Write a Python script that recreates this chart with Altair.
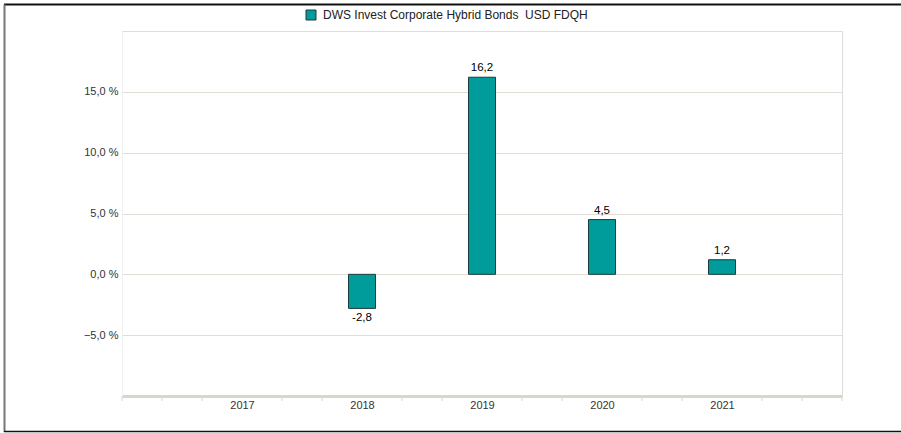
import altair as alt
import pandas as pd

years = [2018, 2019, 2020, 2021]
values = [-2.8, 16.2, 4.5, 1.2]
series_name = "DWS Invest Corporate Hybrid Bonds\u00a0 USD FDQH"
year_labels = [2017, 2018, 2019, 2020, 2021]
y_ticks = [-10, -5, 0, 5, 10, 15, 20]
minor_ticks = [2016, 2016.333, 2016.667, 2017.333, 2017.667, 2018.333, 2018.667,
               2019.333, 2019.667, 2020.333, 2020.667, 2021.333, 2021.667, 2022]

FONT = "Liberation Sans"
W, H = 720, 365
TEAL = "#009c9c"
EDGE = "#1d3b3b"
AXIS_C = "#d9d5cc"
GRID_C = "#e0ddd6"

df = pd.DataFrame({"year": years, "value": values, "series": series_name})
df["label"] = [f"{v:.1f}".replace(".", ",") for v in values]
ticks_df = pd.DataFrame({"t": minor_ticks})

xscale = alt.Scale(domain=[2016, 2022], nice=False, zero=False, padding=0)
yscale = alt.Scale(domain=[-10, 20], nice=False)

bars = alt.Chart(df).mark_bar(size=27, stroke=EDGE, strokeWidth=1).encode(
    x=alt.X("year:Q", scale=xscale, title=None,
            axis=alt.Axis(values=year_labels, format="d", ticks=False, grid=False,
                          domainColor=AXIS_C, domainWidth=3, labelFont=FONT,
                          labelFontSize=11, labelColor="#333333", labelPadding=3)),
    y=alt.Y("value:Q", scale=yscale, title=None,
            axis=alt.Axis(values=y_ticks, ticks=False, grid=True, gridColor=GRID_C,
                          domainColor="#f0f0f0", labelFont=FONT, labelFontSize=11,
                          labelColor="#333333", labelPadding=4,
                          labelExpr="(datum.value <= -10 || datum.value >= 20) ? '' : replace(format(datum.value, '.1f'), '.', ',') + ' %'")),
    y2=alt.datum(0),
    color=alt.Color("series:N", scale=alt.Scale(range=[TEAL]), title=None,
                    legend=alt.Legend(orient="none", legendX=183, legendY=-22,
                                      symbolType="square", symbolSize=100,
                                      symbolStrokeColor=EDGE, symbolStrokeWidth=1,
                                      symbolFillColor=TEAL,
                                      labelFont=FONT, labelFontSize=12,
                                      labelColor="#222222", labelOffset=6,
                                      labelLimit=400)),
)

pos_labels = alt.Chart(df).transform_filter("datum.value >= 0").mark_text(
    baseline="bottom", dy=-4, font=FONT, fontSize=11.5, color="#000000"
).encode(x=alt.X("year:Q", scale=xscale), y=alt.Y("value:Q", scale=yscale), text="label:N")

neg_labels = alt.Chart(df).transform_filter("datum.value < 0").mark_text(
    baseline="top", dy=4, font=FONT, fontSize=11.5, color="#000000"
).encode(x=alt.X("year:Q", scale=xscale), y=alt.Y("value:Q", scale=yscale), text="label:N")

minor = alt.Chart(ticks_df).mark_rule(color=AXIS_C, strokeWidth=1).encode(
    x=alt.X("t:Q", scale=xscale), y=alt.value(H), y2=alt.value(H + 5)
)

frame_df = pd.DataFrame({"k": [1]})
frame_top = alt.Chart(frame_df).mark_rule(color="#111111", strokeWidth=2).encode(
    x=alt.value(-118), x2=alt.value(790), y=alt.value(-26.5))
frame_left = alt.Chart(frame_df).mark_rule(color="#777777", strokeWidth=2).encode(
    x=alt.value(-117.5), y=alt.value(-26.5), y2=alt.value(401))
frame_bottom = alt.Chart(frame_df).mark_rule(color="#111111", strokeWidth=1.5).encode(
    x=alt.value(-118), x2=alt.value(790), y=alt.value(400.5))

chart = alt.layer(minor, bars, pos_labels, neg_labels, frame_top, frame_left, frame_bottom).properties(
    width=W, height=H,
    autosize=alt.AutoSizeParams(type="none"),
    padding={"left": 122, "top": 31, "right": 59, "bottom": 37},
).configure_view(stroke=None).configure(background="white")

chart.save("out.html", embed_options={"renderer": "svg", "actions": False})
